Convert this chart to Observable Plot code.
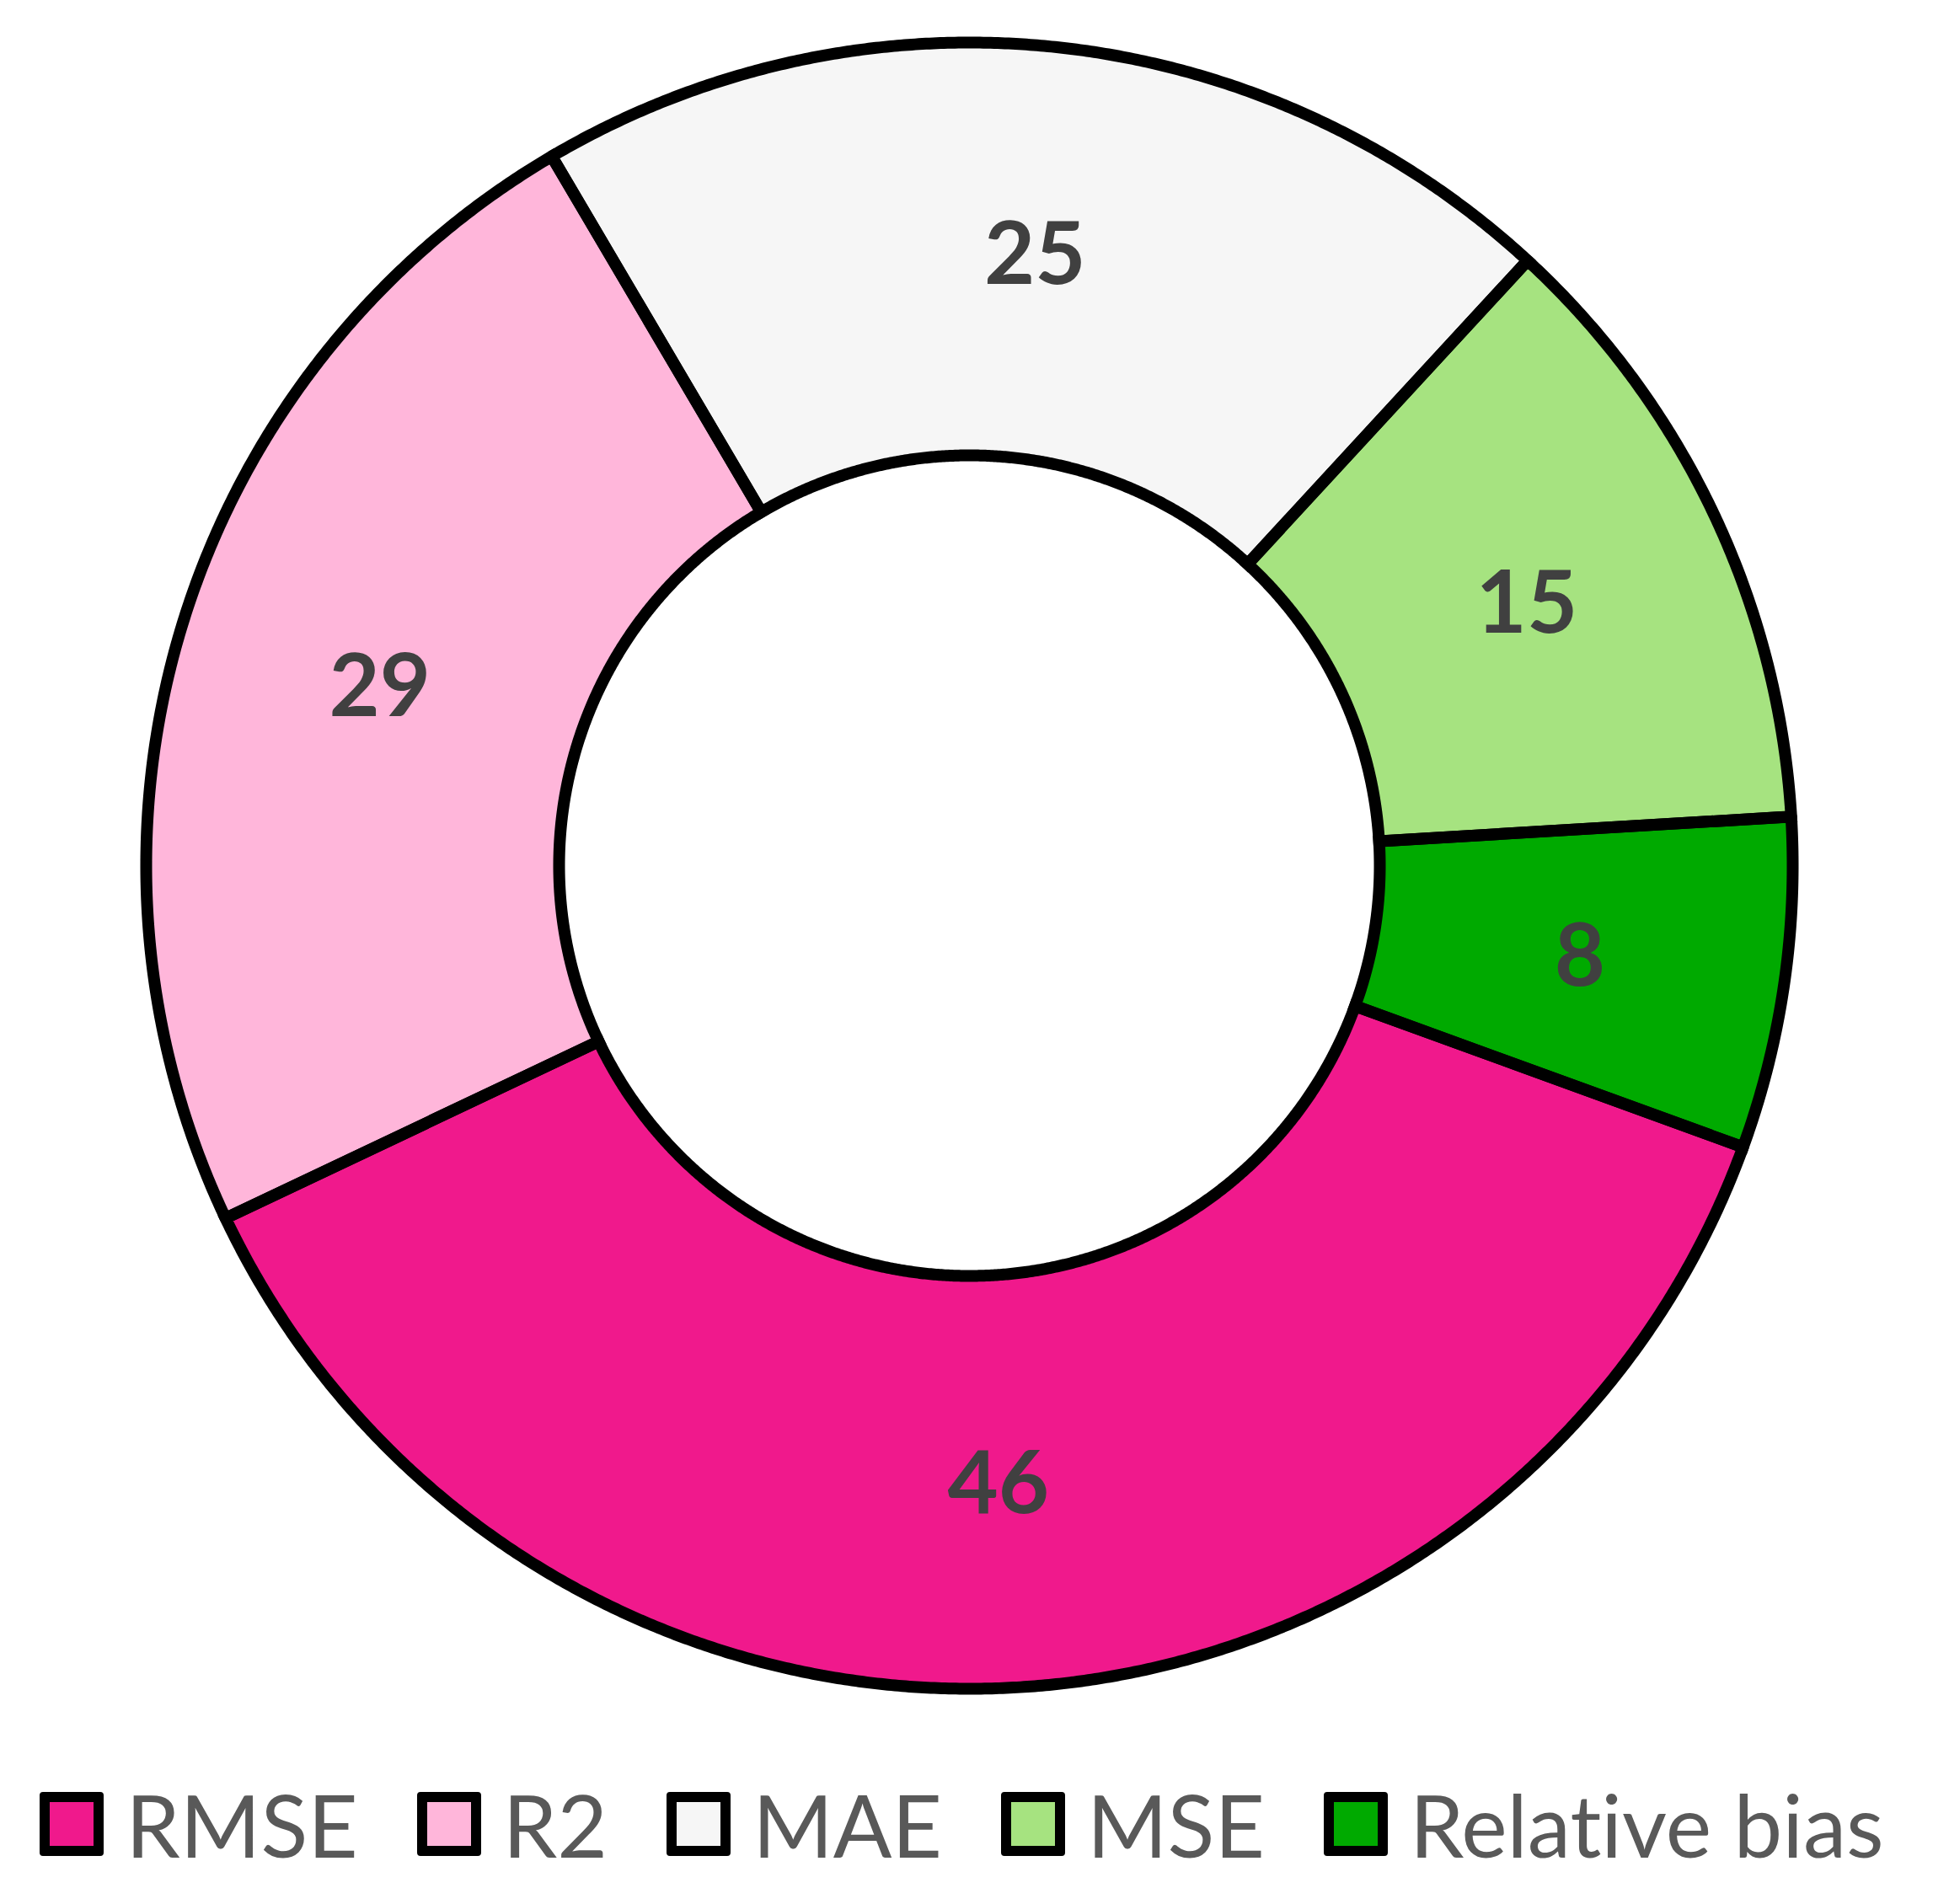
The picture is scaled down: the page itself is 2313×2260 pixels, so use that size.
<!DOCTYPE html>
<html>
<head>
<meta charset="utf-8">
<script src="https://cdn.jsdelivr.net/npm/d3@7"></script>
<script src="https://cdn.jsdelivr.net/npm/@observablehq/plot@0.6"></script>
<style>
  html, body { margin: 0; padding: 0; background: #fff; }
  #chart svg { display: block; }
  .legend { display: flex; justify-content: center; align-items: center; height: 150px; font-family: Lato, "Open Sans", sans-serif; font-size: 103px; color: #595959; padding-right: 30px; font-variant-ligatures: none; font-feature-settings: "liga" 0, "clig" 0; }
  .item { display: flex; align-items: center; margin: 0 35px; }
  .sw { box-sizing: border-box; width: 76px; height: 76px; border: 12px solid #000; border-radius: 4px; margin-right: 26px; }
</style>
</head>
<body>
<div id="chart"></div>
<div class="legend" id="legend"></div>
<script>
// ---- data ----
const categories = ["RMSE", "R2", "MAE", "MSE", "Relative bias"];
const values = [46, 29, 25, 15, 8];
const colors = ["#F0198C", "#FFB6DA", "#F6F6F6", "#A6E380", "#00AA00"];

// ---- layout ----
const W = 2313, H = 2090;
const cx = 1150, cy = 1027;
const outerR = 977, innerR = 487;
const startDeg = 110;

const rows = categories.map((c, i) => ({name: c, value: values[i]}));
const pie = d3.pie().sort(null).value(d => d.value)
  .startAngle(startDeg * Math.PI / 180)
  .endAngle(startDeg * Math.PI / 180 + 2 * Math.PI);
const arcs = pie(rows);

// polygon outline of each ring segment (angles clockwise from north)
const pts = [];
const step = Math.PI / 720;
for (const a of arcs) {
  const name = a.data.name;
  const ring = [];
  const n = Math.max(2, Math.ceil((a.endAngle - a.startAngle) / step));
  for (let k = 0; k <= n; k++) {
    const t = a.startAngle + (a.endAngle - a.startAngle) * k / n;
    ring.push({name, x: outerR * Math.sin(t), y: outerR * Math.cos(t)});
  }
  for (let k = n; k >= 0; k--) {
    const t = a.startAngle + (a.endAngle - a.startAngle) * k / n;
    ring.push({name, x: innerR * Math.sin(t), y: innerR * Math.cos(t)});
  }
  ring.push({...ring[0]});
  pts.push(...ring);
}
const midR = (outerR + innerR) / 2;
const labels = arcs.map(a => {
  const t = (a.startAngle + a.endAngle) / 2;
  return {name: a.data.name, value: a.data.value, x: midR * Math.sin(t), y: midR * Math.cos(t)};
});

const plot = Plot.plot({
  width: W, height: H,
  margin: 0,
  x: {domain: [-cx, W - cx], axis: null},
  y: {domain: [-(H - cy), cy], axis: null},
  color: {domain: categories, range: colors},
  marks: [
    Plot.line(pts, {x: "x", y: "y", z: "name", fill: "name", stroke: "none", curve: "linear"}),
    Plot.line(pts, {x: "x", y: "y", z: "name", fill: "none", stroke: "#000", strokeWidth: 14, strokeLinejoin: "miter", strokeMiterlimit: 4, curve: "linear"}),
    Plot.text(labels, {x: "x", y: "y", text: d => String(d.value), fontSize: 104, fontWeight: "bold", fill: "#404040", fontFamily: "Lato, 'Open Sans', sans-serif", textAnchor: "middle", dy: 4})
  ]
});
document.getElementById("chart").appendChild(plot);

const legend = document.getElementById("legend");
categories.forEach((c, i) => {
  const it = document.createElement("div");
  it.className = "item";
  const sw = document.createElement("div");
  sw.className = "sw";
  sw.style.background = colors[i];
  const tx = document.createElement("span");
  tx.textContent = c;
  it.appendChild(sw);
  it.appendChild(tx);
  legend.appendChild(it);
});
</script>
</body>
</html>
